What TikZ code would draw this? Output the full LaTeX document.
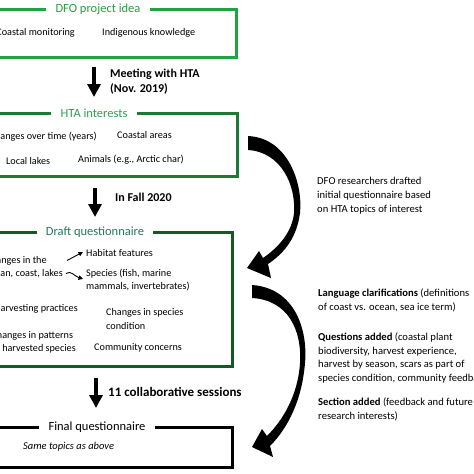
\documentclass[tikz,border=0pt]{standalone}
\usepackage{fontspec}
\setmainfont{Carlito}
\usetikzlibrary{arrows.meta}
\definecolor{IdeaGreen}{HTML}{22A33C}
\definecolor{HtaGreen}{HTML}{1E7A33}
\definecolor{HtaText}{HTML}{2AA24E}
\definecolor{DraftGreen}{HTML}{155A25}
\definecolor{DraftText}{HTML}{25795A}

\begin{document}
\begin{tikzpicture}[x=1pt,y=-1pt,
  title/.style={inner sep=0pt,font=\fontsize{12.5}{14}\selectfont},
  item/.style={inner sep=0pt,align=left,font=\fontsize{10.2}{13.2}\selectfont},
  steplabel/.style={anchor=west,inner sep=0pt,align=left,font=\bfseries\fontsize{12}{15}\selectfont},
  note/.style={anchor=west,inner sep=0pt,align=left,font=\fontsize{10.6}{13.9}\selectfont},
  frame/.style={line width=3pt},
  down/.style={line width=3.5pt,-{Triangle[width=13pt,length=13pt]}},
  tiny/.style={line width=0.9pt,-{Triangle[width=4.5pt,length=4.5pt]}}
]
  \useasboundingbox (0,0) rectangle (474,474);
  \clip (0,0) rectangle (474,474);

  % DFO project idea
  \node[title,text=IdeaGreen] (ideaT) at (98,9) {DFO project idea};
  \draw[frame,IdeaGreen] ([xshift=-9pt]ideaT.west) -- (-10,9) -- (-10,57)
    -- (236,57) -- (236,9) -- ([xshift=9pt]ideaT.east);
  \node[item,anchor=east] (coast) at (75,33) {Coastal monitoring};
  \node[item,anchor=west] (indig) at (102,33) {Indigenous knowledge};

  \coordinate (m1s) at (94,67);
  \coordinate (m1e) at (94,97);
  \draw[down] (m1s) -- (m1e);
  \node[steplabel] (meet) at (110,81.5) {Meeting with HTA\\(Nov. 2019)};

  % HTA interests
  \node[title,text=HtaText] (htaT) at (94,113) {HTA interests};
  \draw[frame,HtaGreen] ([xshift=-9pt]htaT.west) -- (-10,113) -- (-10,176)
    -- (237,176) -- (237,113) -- ([xshift=9pt]htaT.east);
  \node[item,anchor=east] (years) at (97,137) {Changes over time (years)};
  \node[item,anchor=west] (areas) at (117,135) {Coastal areas};
  \node[item,anchor=west] (lakes) at (6,161) {Local lakes};
  \node[item,anchor=west] (animals) at (78,160) {Animals (e.g., Arctic char)};

  \coordinate (m2s) at (95,188);
  \coordinate (m2e) at (95,217);
  \draw[down] (m2s) -- (m2e);
  \node[steplabel] (fall) at (115,197) {In Fall 2020};

  % Draft questionnaire
  \node[title,text=DraftText] (draftT) at (95,232) {Draft questionnaire};
  \draw[frame,DraftGreen] ([xshift=-9pt]draftT.west) -- (-10,232) -- (-10,366)
    -- (232,366) -- (232,232) -- ([xshift=9pt]draftT.east);
  \node[item,anchor=east] (chg) at (63,267.5) {Changes in the\\ocean, coast, lakes};
  \node[item,anchor=west] (habitat) at (86,253) {Habitat features};
  \node[item,anchor=west] (species) at (86,280) {Species (fish, marine\\mammals, invertebrates)};
  \draw[tiny] ([xshift=4pt,yshift=7pt]chg.east) -- ([xshift=-3pt,yshift=1pt]habitat.west);
  \draw[tiny] ([xshift=3pt,yshift=-6pt]chg.east) .. controls (71,270) and (74,276)
    .. ([xshift=-3pt,yshift=1pt]species.west);
  \node[item,anchor=east] (harv) at (78,309) {Harvesting practices};
  \node[item,anchor=west] (cond) at (106,319) {Changes in species\\condition};
  \node[item,anchor=east] (pattern) at (76,342) {Changes in patterns\\of harvested species};
  \node[item,anchor=west] (concern) at (94,348) {Community concerns};

  \coordinate (m3s) at (96,378);
  \coordinate (m3e) at (96,408);
  \draw[down] (m3s) -- (m3e);
  \node[steplabel,font=\bfseries\fontsize{13}{15}\selectfont] (sess) at (108,392) {11 collaborative sessions};

  % Final questionnaire
  \node[title] (finalT) at (97,427) {Final questionnaire};
  \draw[frame,black] ([xshift=-9pt]finalT.west) -- (-10,427) -- (-10,467)
    -- (232,467) -- (232,427) -- ([xshift=9pt]finalT.east);
  \node[item,anchor=west,font=\itshape\fontsize{10.5}{13}\selectfont] (same) at (23,447) {Same topics as above};

  % curved arrows on the right
  \fill (248,136) .. controls (289,138) and (303,185) .. (300,213)
    .. controls (297,236) and (286,252) .. (268,264) -- (271,278) -- (247,268)
    -- (259,251) -- (263,258) .. controls (279,247) and (292,232) .. (294,213)
    .. controls (296,185) and (281,152) .. (248,150) -- cycle;
  \fill (252,285) .. controls (295,288) and (308,330) .. (305,363)
    .. controls (302,400) and (288,428) .. (270,446) -- (273,457) -- (252,447)
    -- (262,429) -- (267,436) .. controls (283,420) and (298,395) .. (300,363)
    .. controls (302,330) and (288,300) .. (252,298) -- cycle;

  \node[note] (drafted) at (317,195.5) {DFO researchers drafted\\initial questionnaire based\\on HTA topics of interest};
  \node[note] (lang) at (318,300) {\textbf{Language clarifications} (definitions\\of coast vs. ocean, sea ice term)};
  \node[note] (added) at (318,358) {\textbf{Questions added} (coastal plant\\biodiversity, harvest experience,\\harvest by season, scars as part of\\species condition, community feedback)};
  \node[note] (section) at (318,409) {\textbf{Section added} (feedback and future\\research interests)};
\end{tikzpicture}
\end{document}
